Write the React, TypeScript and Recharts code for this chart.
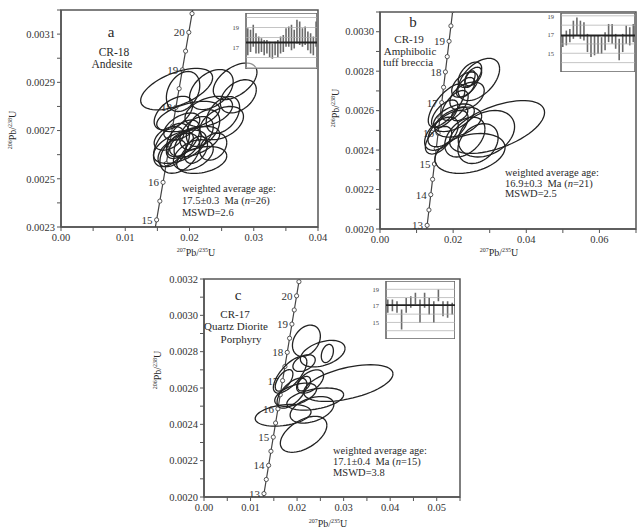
import React from 'react';
import { ScatterChart, Scatter, XAxis, YAxis, ReferenceArea, ReferenceLine, BarChart, Bar } from 'recharts';

// ---------- Concordia reference curve (age in Ma, ratios) ----------
const concordiaAges = [12, 12.5, 13, 13.5, 14, 14.5, 15, 15.5, 16, 16.5, 17, 17.5, 18, 18.5, 19, 19.5, 20, 20.5, 21];
const concordia207 = [0.0118883, 0.0123867, 0.0128854, 0.0133843, 0.0138834, 0.0143828, 0.0148824, 0.0153823, 0.0158824, 0.0163827, 0.0168834, 0.0173843, 0.0178854, 0.0183867, 0.0188884, 0.0193902, 0.0198923, 0.0203946, 0.0208972];
const concordia206 = [0.0018632, 0.0019409, 0.0020187, 0.0020964, 0.0021741, 0.0022518, 0.0023296, 0.0024073, 0.0024851, 0.0025628, 0.0026406, 0.0027184, 0.0027962, 0.0028739, 0.0029517, 0.0030295, 0.0031073, 0.0031851, 0.0032629];

const labelAgesA = [15, 16, 18, 19, 20];
const labelAgesB = [13, 14, 15, 16, 17, 18, 19];
const labelAgesC = [13, 14, 15, 16, 17, 18, 19, 20];

// ---------- Panel a: CR-18 ellipses ----------
const aX = [0.0180, 0.0190, 0.0234, 0.0271, 0.0276, 0.0252, 0.0230, 0.0198, 0.0175, 0.0250, 0.0172, 0.0185, 0.0185, 0.0208, 0.0190, 0.0219, 0.0206, 0.0211, 0.0221, 0.0237, 0.0173, 0.0188, 0.0197, 0.0210, 0.0185, 0.0168];
const aSX = [0.0056, 0.0026, 0.0034, 0.0034, 0.0028, 0.0026, 0.0037, 0.0049, 0.0030, 0.0034, 0.0028, 0.0041, 0.0031, 0.0039, 0.0026, 0.0039, 0.0031, 0.0026, 0.0026, 0.0021, 0.0022, 0.0028, 0.0021, 0.0018, 0.0021, 0.0023];
const aY = [0.002872, 0.002862, 0.002870, 0.002904, 0.002842, 0.002765, 0.002779, 0.002758, 0.002772, 0.002731, 0.002640, 0.002633, 0.002606, 0.002654, 0.002668, 0.002578, 0.002599, 0.002689, 0.002710, 0.002633, 0.002606, 0.002717, 0.002648, 0.002620, 0.002640, 0.002668];
const aSY = [0.000086, 0.000083, 0.000083, 0.000076, 0.000069, 0.000076, 0.000063, 0.000063, 0.000070, 0.000069, 0.000090, 0.000069, 0.000083, 0.000063, 0.000076, 0.000056, 0.000063, 0.000069, 0.000076, 0.000056, 0.000056, 0.000056, 0.000063, 0.000056, 0.000056, 0.000049];
const aRho = [0.55, 0.3, 0.4, 0.5, 0.4, 0.4, 0.4, 0.5, 0.5, 0.4, 0.5, 0.5, 0.4, 0.5, 0.5, 0.3, 0.4, 0.4, 0.4, 0.3, 0.4, 0.5, 0.5, 0.4, 0.5, 0.4];

// ---------- Panel b: CR-19 ellipses ----------
const bX = [0.0270, 0.0246, 0.0255, 0.0232, 0.0238, 0.0182, 0.0214, 0.0186, 0.0320, 0.0291, 0.0246, 0.0268, 0.0232, 0.0168, 0.0177, 0.0205, 0.0218, 0.0234, 0.0246, 0.0202, 0.0160];
const bSX = [0.0057, 0.0032, 0.0023, 0.0036, 0.0047, 0.0050, 0.0064, 0.0055, 0.0130, 0.0077, 0.0096, 0.0055, 0.0055, 0.0046, 0.0036, 0.0036, 0.0022, 0.0025, 0.0014, 0.0056, 0.0036];
const bY = [0.002758, 0.002782, 0.002773, 0.002732, 0.002673, 0.002626, 0.002542, 0.002509, 0.002517, 0.002483, 0.002383, 0.002433, 0.002466, 0.002483, 0.002584, 0.002626, 0.002584, 0.002718, 0.002760, 0.002564, 0.002450];
const bSY = [0.000107, 0.000064, 0.000047, 0.000064, 0.000072, 0.000109, 0.000076, 0.000092, 0.000134, 0.000118, 0.000101, 0.000101, 0.000101, 0.000084, 0.000070, 0.000076, 0.000035, 0.000050, 0.000042, 0.000070, 0.000070];
const bRho = [0.5, 0.5, 0.5, 0.5, 0.4, 0.7, 0.4, 0.6, 0.55, 0.3, 0.3, 0.3, 0.4, 0.5, 0.6, 0.6, 0.4, 0.5, 0.5, 0.5, 0.5];

// ---------- Panel c: CR-17 ellipses ----------
const cX = [0.0220, 0.0255, 0.0265, 0.0310, 0.0239, 0.0232, 0.0170, 0.0214, 0.0185, 0.0215, 0.0172, 0.0228, 0.0215, 0.0197, 0.0189];
const cSX = [0.0030, 0.0048, 0.0013, 0.0096, 0.0061, 0.0047, 0.0060, 0.0050, 0.0036, 0.0024, 0.0019, 0.0029, 0.0014, 0.0045, 0.0032];
const cY = [0.002860, 0.002789, 0.002790, 0.002627, 0.002539, 0.002480, 0.002450, 0.002345, 0.002673, 0.002737, 0.002642, 0.002636, 0.002624, 0.002563, 0.002572];
const cSY = [0.000086, 0.000073, 0.000050, 0.000101, 0.000061, 0.000073, 0.000060, 0.000099, 0.000101, 0.000046, 0.000059, 0.000064, 0.000040, 0.000064, 0.000083];
const cRho = [0.3, 0.4, 0.3, 0.5, 0.4, 0.4, 0.3, 0.5, 0.7, 0.4, 0.6, 0.5, 0.4, 0.5, 0.6];

// ---------- Inset weighted-mean age bars (Ma) ----------
const insetALow = [16.22, 16.56, 17.07, 16.39, 16.39, 16.56, 16.22, 16.39, 16.05, 15.88, 16.22, 16.05, 16.39, 16.56, 17.07, 17.07, 16.73, 16.90, 17.41, 17.24, 17.07, 17.24, 16.73, 16.39, 16.22, 17.07];
const insetAHigh = [18.93, 18.77, 19.27, 18.43, 18.09, 17.92, 17.75, 17.75, 17.58, 17.41, 17.58, 17.75, 18.09, 18.26, 18.93, 19.10, 19.27, 18.77, 19.78, 19.61, 18.93, 19.10, 18.60, 18.43, 18.09, 19.61];
const insetAMean = 17.5;
const insetBLow = [15.66, 15.84, 16.19, 16.54, 16.89, 16.54, 16.37, 15.13, 14.60, 14.78, 14.95, 14.95, 15.31, 16.19, 16.01, 15.48, 14.25, 15.13, 16.01, 15.84, 16.19];
const insetBHigh = [16.89, 17.42, 17.60, 18.48, 18.83, 18.48, 18.31, 17.07, 16.89, 16.89, 16.89, 16.72, 17.25, 18.13, 18.13, 17.07, 16.54, 17.07, 17.95, 17.78, 18.13];
const insetBMean = 16.9;
const insetCLow = [16.16, 16.36, 16.16, 14.15, 16.16, 16.76, 17.16, 14.95, 16.76, 15.96, 14.95, 17.56, 15.76, 15.56, 15.96];
const insetCHigh = [17.76, 17.76, 17.56, 16.56, 17.96, 18.16, 18.57, 17.76, 18.57, 17.96, 17.56, 18.97, 17.56, 17.56, 17.36];
const insetCMean = 17.1;

const FONT = "'Liberation Serif', 'DejaVu Serif', serif";
const INK = '#222';
const AXIS = '#555';

// geometric outline of an error ellipse given centre, half-extents and correlation
function outline(cx: number, sx: number, cy: number, sy: number, rho: number) {
  const pts: { x: number; y: number }[] = [];
  const k = Math.sqrt(1 - rho * rho);
  for (let i = 0; i <= 60; i++) {
    const t = (i / 60) * Math.PI * 2;
    pts.push({ x: cx + sx * Math.cos(t), y: cy + sy * (rho * Math.cos(t) + k * Math.sin(t)) });
  }
  return pts;
}

const concordiaData = concordiaAges.map((age, i) => ({ x: concordia207[i], y: concordia206[i], age }));

const Empty = () => <g />;
const Marker = (p: any) => (
  <circle cx={p.cx} cy={p.cy} r={2.1} fill="#fff" stroke="#444" strokeWidth={0.9} />
);
const AgeLabel = (p: any) => (
  <text x={p.cx - 4} y={p.cy + 4} textAnchor="end" fontSize={11} fontFamily={FONT} fill="#333">
    {p.payload.age}
  </text>
);

function isMajor(v: number, base: number, step: number) {
  const r = (v - base) / step;
  return Math.abs(r - Math.round(r)) < 1e-6;
}

type PanelProps = {
  left: number; top: number; width: number; height: number;
  margin: { top: number; right: number; bottom: number; left: number };
  yWidth: number;
  xMax: number; yMin: number; yMax: number;
  xTicks: number[]; xMajor: number;
  yTicks: number[]; yMajor: number;
  ex: number[]; esx: number[]; ey: number[]; esy: number[]; erho: number[];
  labelAges: number[];
};

function Panel(p: PanelProps) {
  const labels = concordiaData.filter((d) => p.labelAges.includes(d.age));
  return (
    <div style={{ position: 'absolute', left: p.left, top: p.top }}>
      <ScatterChart width={p.width} height={p.height} margin={p.margin}>
        <XAxis
          type="number" dataKey="x" domain={[0, p.xMax]} allowDataOverflow ticks={p.xTicks}
          tickFormatter={(v: number) => (isMajor(v, 0, p.xMajor) ? v.toFixed(2) : '')}
          height={25} tickSize={4} tickMargin={3}
          stroke={AXIS} axisLine={{ stroke: AXIS, strokeWidth: 1.5 }}
          tick={{ fontSize: 10.5, fontFamily: FONT, fill: '#333' }}
        />
        <YAxis
          type="number" dataKey="y" domain={[p.yMin, p.yMax]} allowDataOverflow ticks={p.yTicks}
          tickFormatter={(v: number) => (isMajor(v, p.yMin, p.yMajor) ? v.toFixed(4) : '')}
          width={p.yWidth} tickSize={4} tickMargin={2}
          stroke={AXIS} axisLine={{ stroke: AXIS, strokeWidth: 1.5 }}
          tick={{ fontSize: 10.5, fontFamily: FONT, fill: '#333' }}
        />
        <ReferenceArea x1={0} x2={p.xMax} y1={p.yMin} y2={p.yMax} fill="none" stroke={AXIS} strokeWidth={1.5} />
        <Scatter data={concordiaData} shape={Marker} line={{ stroke: '#444', strokeWidth: 1.2 }} isAnimationActive={false} />
        <Scatter data={labels} shape={AgeLabel} isAnimationActive={false} />
        {p.ex.map((x, i) => (
          <Scatter
            key={i}
            data={outline(x, p.esx[i], p.ey[i], p.esy[i], p.erho[i])}
            shape={Empty}
            line={{ stroke: INK, strokeWidth: 1.3 }}
            isAnimationActive={false}
          />
        ))}
      </ScatterChart>
    </div>
  );
}

type InsetProps = { left: number; top: number; width: number; height: number; low: number[]; high: number[]; mean: number; yMin: number; yMax: number; ticks: number[]; grid: number[] };

function Inset(p: InsetProps) {
  const data = p.low.map((lo, i) => ({ i, lo, hi: p.high[i] }));
  return (
    <div style={{ position: 'absolute', left: p.left, top: p.top, background: 'transparent' }}>
      <BarChart width={p.width} height={p.height} data={data} margin={{ top: 0, right: 0, bottom: 0, left: 0 }} barCategoryGap={0}>
        <XAxis dataKey="i" hide />
        <YAxis
          type="number" domain={[p.yMin, p.yMax]} allowDataOverflow ticks={p.ticks} width={18}
          axisLine={false} tickLine={false} tickMargin={1}
          tick={{ fontSize: 6.5, fontFamily: FONT, fill: '#444' }}
        />
        <ReferenceArea y1={p.yMin} y2={p.yMax} fill="#fff" stroke="#666" strokeWidth={1.6} />
        {p.grid.map((g) => (
          <ReferenceLine key={g} y={g} stroke="#aaa" strokeWidth={0.7} />
        ))}
        <Bar dataKey={(d: any) => [d.lo, d.hi]} fill="#6a6a6a" barSize={1.6} isAnimationActive={false} />
        <ReferenceLine y={p.mean} stroke="#222" strokeWidth={1.8} />
      </BarChart>
    </div>
  );
}

function Txt({ x, y, size = 11, anchor = 'middle', italic, children }: any) {
  const tx = anchor === 'middle' ? '-50%' : anchor === 'end' ? '-100%' : '0';
  return (
    <div
      style={{
        position: 'absolute', left: x, top: y, transform: `translate(${tx}, -50%)`,
        fontFamily: FONT, fontSize: size, color: '#2a2a2a', whiteSpace: 'nowrap', lineHeight: 1,
        fontStyle: italic ? 'italic' : 'normal',
      }}
    >
      {children}
    </div>
  );
}

const supStyle: React.CSSProperties = { fontSize: 6, verticalAlign: 'super', lineHeight: 0 };
const XLabel = () => (
  <span><span style={supStyle}>207</span>Pb/<span style={supStyle}>235</span>U</span>
);
const YLabel = () => (
  <span><span style={supStyle}>206</span>Pb/<span style={supStyle}>238</span>U</span>
);

function RotTxt({ x, y, children }: any) {
  return (
    <div
      style={{
        position: 'absolute', left: x, top: y, transform: 'translate(-50%, -50%) rotate(-90deg)',
        fontFamily: FONT, fontSize: 10, color: '#2a2a2a', whiteSpace: 'nowrap', lineHeight: 1,
      }}
    >
      {children}
    </div>
  );
}

const xTicksA = [0, 0.005, 0.01, 0.015, 0.02, 0.025, 0.03, 0.035, 0.04];
const yTicksA = [0.0023, 0.0024, 0.0025, 0.0026, 0.0027, 0.0028, 0.0029, 0.003, 0.0031, 0.0032];
const xTicksB = [0, 0.01, 0.02, 0.03, 0.04, 0.05, 0.06, 0.07];
const yTicksB = [0.002, 0.0021, 0.0022, 0.0023, 0.0024, 0.0025, 0.0026, 0.0027, 0.0028, 0.0029, 0.003, 0.0031];
const xTicksC = [0, 0.005, 0.01, 0.015, 0.02, 0.025, 0.03, 0.035, 0.04, 0.045, 0.05, 0.055];
const yTicksC = [0.002, 0.0021, 0.0022, 0.0023, 0.0024, 0.0025, 0.0026, 0.0027, 0.0028, 0.0029, 0.003, 0.0031, 0.0032];

const TS = 10.5; // annotation font size

export default function App() {
  return (
    <div style={{ position: 'absolute', left: 0, top: 0, width: 638, height: 532, background: '#fff', overflow: 'hidden' }}>
      <Panel
        left={0} top={0} width={330} height={260} margin={{ top: 10, right: 12, bottom: 8, left: 6 }} yWidth={55}
        xMax={0.04} yMin={0.0023} yMax={0.0032} xTicks={xTicksA} xMajor={0.01} yTicks={yTicksA} yMajor={0.0002}
        ex={aX} esx={aSX} ey={aY} esy={aSY} erho={aRho} labelAges={labelAgesA}
      />
      <Panel
        left={318} top={0} width={320} height={262} margin={{ top: 12, right: 2, bottom: 8, left: 0 }} yWidth={62}
        xMax={0.07} yMin={0.002} yMax={0.0031} xTicks={xTicksB} xMajor={0.02} yTicks={yTicksB} yMajor={0.0002}
        ex={bX} esx={bSX} ey={bY} esy={bSY} erho={bRho} labelAges={labelAgesB}
      />
      <Panel
        left={140} top={270} width={325} height={260} margin={{ top: 9, right: 5, bottom: 8, left: 0 }} yWidth={64}
        xMax={0.055} yMin={0.002} yMax={0.0032} xTicks={xTicksC} xMajor={0.01} yTicks={yTicksC} yMajor={0.0002}
        ex={cX} esx={cSX} ey={cY} esy={cSY} erho={cRho} labelAges={labelAgesC}
      />

      <Inset left={228} top={13} width={89} height={56} low={insetALow} high={insetAHigh} mean={insetAMean} yMin={14.85} yMax={20.45} ticks={[17, 19]} grid={[15, 16, 18, 19, 20]} />
      <Inset left={543} top={13} width={92} height={59} low={insetBLow} high={insetBHigh} mean={insetBMean} yMin={13} yMax={19.3} ticks={[13, 15, 17, 19]} grid={[14, 15, 16, 18, 19]} />
      <Inset left={368} top={281} width={87} height={58} low={insetCLow} high={insetCHigh} mean={insetCMean} yMin={13} yMax={20} ticks={[13, 15, 17, 19]} grid={[14, 15, 16, 18, 19]} />

      {/* panel a text */}
      <Txt x={111} y={32} size={15}>a</Txt>
      <Txt x={114} y={53} size={11.5}>CR-18</Txt>
      <Txt x={112} y={65} size={11.5}>Andesite</Txt>
      <Txt x={182} y={189} size={TS} anchor="start">weighted average age:</Txt>
      <Txt x={182} y={201} size={TS} anchor="start">17.5±0.3&nbsp;&nbsp;Ma (<i>n</i>=26)</Txt>
      <Txt x={182} y={212.5} size={TS} anchor="start">MSWD=2.6</Txt>
      <Txt x={196} y={253} size={10}><XLabel /></Txt>
      <RotTxt x={13} y={130}><YLabel /></RotTxt>

      {/* panel b text */}
      <Txt x={413} y={22} size={15}>b</Txt>
      <Txt x={409} y={39} size={11}>CR-19</Txt>
      <Txt x={410} y={51} size={11}>Amphibolic</Txt>
      <Txt x={408} y={62} size={11}>tuff breccia</Txt>
      <Txt x={505} y={172.5} size={TS} anchor="start">weighted average age:</Txt>
      <Txt x={505} y={183.5} size={TS} anchor="start">16.9±0.3&nbsp;&nbsp;Ma (<i>n</i>=21)</Txt>
      <Txt x={505} y={194} size={TS} anchor="start">MSWD=2.5</Txt>
      <Txt x={499} y={253} size={10}><XLabel /></Txt>
      <RotTxt x={336} y={108}><YLabel /></RotTxt>

      {/* panel c text */}
      <Txt x={238} y={295} size={15}>c</Txt>
      <Txt x={235} y={314} size={11}>CR-17</Txt>
      <Txt x={236} y={326} size={11}>Quartz Diorite</Txt>
      <Txt x={241} y={339} size={11}>Porphyry</Txt>
      <Txt x={333} y={451} size={TS} anchor="start">weighted average age:</Txt>
      <Txt x={333} y={462} size={TS} anchor="start">17.1±0.4&nbsp;&nbsp;Ma (<i>n</i>=15)</Txt>
      <Txt x={333} y={472.5} size={TS} anchor="start">MSWD=3.8</Txt>
      <Txt x={328} y={524} size={10}><XLabel /></Txt>
      <RotTxt x={158} y={370}><YLabel /></RotTxt>
    </div>
  );
}
